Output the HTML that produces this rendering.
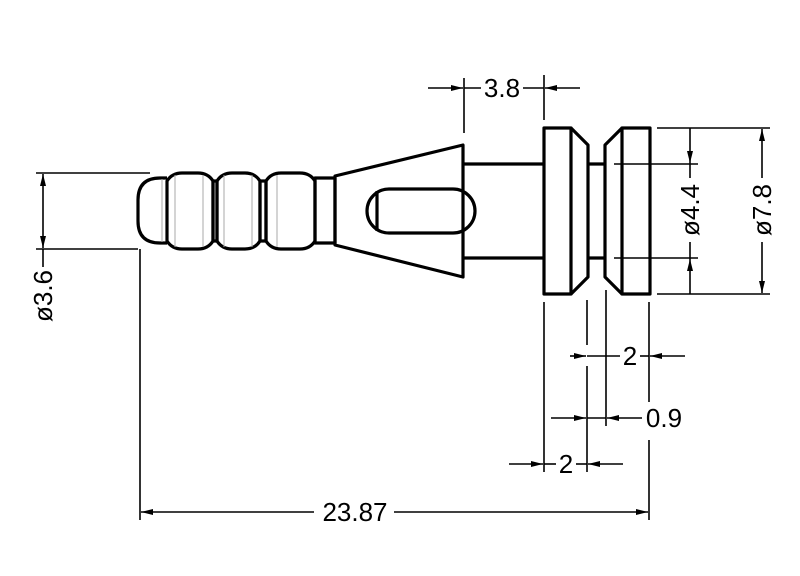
<!DOCTYPE html>
<html><head><style>html,body{margin:0;padding:0;background:#fff}svg{display:block}</style></head>
<body>
<svg width="800" height="576" viewBox="0 0 800 576" xmlns="http://www.w3.org/2000/svg" font-family="Liberation Sans, sans-serif">
<defs>
<marker id="a" viewBox="0 0 12 6" refX="12" refY="3" markerWidth="12" markerHeight="6" markerUnits="userSpaceOnUse" orient="auto"><path d="M0,0 L12,3 L0,6 z" fill="#000"/></marker>
</defs>
<g fill="none" stroke="#000" stroke-width="3.2" stroke-linejoin="round">
<!-- head -->
<path d="M167,178 L160,178 Q138,178 138,200 L138,221 Q138,243 160,243 L167,243"/>
<path d="M167,181 Q172,173 182,173 L198,173 Q208,173 213,181 L213,241 Q208,249 198,249 L182,249 Q172,249 167,241 Z"/>
<rect x="213" y="181" width="4" height="60"/>
<path d="M217,181 Q222,173 232,173 L245,173 Q255,173 260,181 L260,241 Q255,249 245,249 L232,249 Q222,249 217,241 Z"/>
<rect x="260" y="181" width="6" height="60"/>
<path d="M266,181 Q271,173 281,173 L300,173 Q310,173 315,181 L315,241 Q310,249 300,249 L281,249 Q271,249 266,241 Z"/>
<rect x="315" y="178" width="20" height="65"/>
<!-- cone -->
<path d="M335,176 L463,145 L463,277 L335,245 Z"/>
<rect x="367" y="189" width="108" height="44" rx="22"/>
<line x1="377" y1="191" x2="377" y2="231"/>
<!-- shaft -->
<line x1="463" y1="164" x2="544" y2="164"/>
<line x1="463" y1="258" x2="544" y2="258"/>
<line x1="588" y1="164" x2="605" y2="164"/>
<line x1="588" y1="258" x2="605" y2="258"/>
<!-- flanges -->
<rect x="544" y="128" width="27" height="166"/>
<path d="M571,128 L588,145 L588,277 L571,294"/>
<rect x="622" y="128" width="28" height="166"/>
<path d="M622,128 L605,145 L605,277 L622,294"/>
</g>
<g stroke="#aaa" stroke-width="1">
<line x1="162" y1="179" x2="162" y2="242"/><line x1="175" y1="175" x2="175" y2="247"/><line x1="203" y1="175" x2="203" y2="247"/>
<line x1="224" y1="175" x2="224" y2="247"/><line x1="252" y1="175" x2="252" y2="247"/><line x1="277" y1="175" x2="277" y2="247"/>
</g>
<g stroke="#000" stroke-width="1.6" fill="none">
<line x1="36" y1="173" x2="150" y2="173"/><line x1="36" y1="249" x2="138" y2="249"/>
<line x1="43" y1="211" x2="43" y2="174" marker-end="url(#a)"/><line x1="43" y1="211" x2="43" y2="248" marker-end="url(#a)"/>
<line x1="43" y1="249" x2="43" y2="267"/>
<line x1="140" y1="249" x2="140" y2="520"/>
<line x1="314" y1="512" x2="141" y2="512" marker-end="url(#a)"/>
<line x1="394" y1="512" x2="648" y2="512" marker-end="url(#a)"/>
<line x1="649" y1="302" x2="649" y2="402"/><line x1="649" y1="440" x2="649" y2="520"/>
<line x1="464" y1="78" x2="464" y2="133"/><line x1="544" y1="75" x2="544" y2="120"/>
<line x1="428" y1="88" x2="463" y2="88" marker-end="url(#a)"/>
<line x1="464" y1="88" x2="481" y2="88"/><line x1="523" y1="88" x2="544" y2="88"/>
<line x1="580" y1="88" x2="545" y2="88" marker-end="url(#a)"/>
<line x1="657" y1="128" x2="770" y2="128"/><line x1="657" y1="294" x2="770" y2="294"/>
<line x1="614" y1="164" x2="698" y2="164"/><line x1="614" y1="258" x2="698" y2="258"/>
<line x1="690" y1="128" x2="690" y2="163" marker-end="url(#a)"/><line x1="690" y1="163" x2="690" y2="178"/>
<line x1="690" y1="294" x2="690" y2="259" marker-end="url(#a)"/><line x1="690" y1="259" x2="690" y2="242"/>
<line x1="762" y1="178" x2="762" y2="129" marker-end="url(#a)"/>
<line x1="762" y1="242" x2="762" y2="293" marker-end="url(#a)"/>
<line x1="544" y1="302" x2="544" y2="472"/>
<line x1="587" y1="300" x2="587" y2="345"/><line x1="587" y1="366" x2="587" y2="472"/>
<line x1="606" y1="290" x2="606" y2="426"/>
<line x1="570" y1="356" x2="586" y2="356" marker-end="url(#a)"/>
<line x1="587" y1="356" x2="620" y2="356"/><line x1="640" y1="356" x2="649" y2="356"/>
<line x1="685" y1="356" x2="650" y2="356" marker-end="url(#a)"/>
<line x1="551" y1="418" x2="586" y2="418" marker-end="url(#a)"/>
<line x1="587" y1="418" x2="606" y2="418"/>
<line x1="642" y1="418" x2="607" y2="418" marker-end="url(#a)"/>
<line x1="509" y1="464" x2="543" y2="464" marker-end="url(#a)"/>
<line x1="544" y1="464" x2="556" y2="464"/><line x1="576" y1="464" x2="587" y2="464"/>
<line x1="623" y1="464" x2="588" y2="464" marker-end="url(#a)"/>
</g>
<g font-size="26" fill="#000">
<text x="502" y="97" text-anchor="middle">3.8</text>
<text x="355" y="521" text-anchor="middle">23.87</text>
<text x="630" y="365" text-anchor="middle">2</text>
<text x="664" y="427" text-anchor="middle">0.9</text>
<text x="566" y="473" text-anchor="middle">2</text>
<text transform="translate(52,296) rotate(-90)" text-anchor="middle">ø3.6</text>
<text transform="translate(699,210) rotate(-90)" text-anchor="middle">ø4.4</text>
<text transform="translate(771,210) rotate(-90)" text-anchor="middle">ø7.8</text>
</g>
</svg>
</body></html>
